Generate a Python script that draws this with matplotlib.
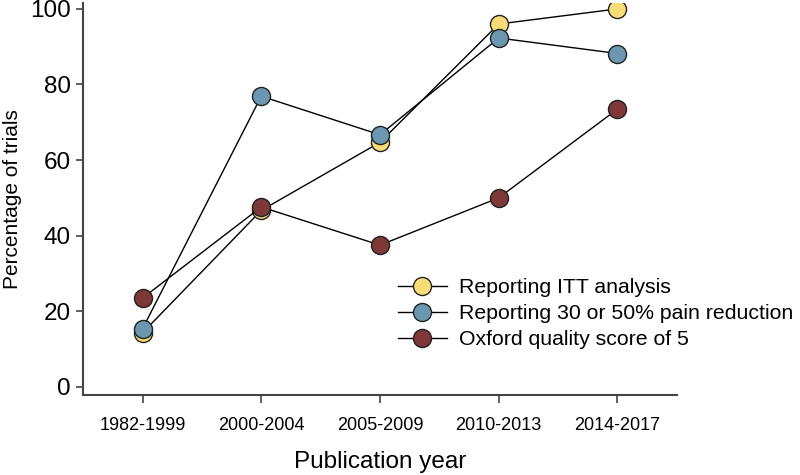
import matplotlib
matplotlib.use("Agg")
import matplotlib.pyplot as plt

plt.rcParams['font.family'] = ['Liberation Sans', 'DejaVu Sans']

categories = ["1982-1999", "2000-2004", "2005-2009", "2010-2013", "2014-2017"]
itt = [14.3, 46.7, 64.7, 96.0, 100.0]
pain = [15.4, 76.9, 66.7, 92.3, 88.2]
oxford = [23.5, 47.6, 37.5, 50.0, 73.5]
labels = ["Reporting ITT analysis", "Reporting 30 or 50% pain reduction", "Oxford quality score of 5"]
colors = ["#F8DC78", "#6C97B1", "#7E3838"]

fig = plt.figure(figsize=(8, 4.75), dpi=100)
ax = fig.add_axes([0.104, 0.168, 0.742, 0.826])

x = list(range(len(categories)))
for vals, lab, col in [(itt, labels[0], colors[0]), (pain, labels[1], colors[1]), (oxford, labels[2], colors[2])]:
    ax.plot(x, vals, color='black', lw=1.0, marker='o', ms=13, mfc=col, mec='#222222', mew=1.0, label=lab)

ax.set_xlim(-0.5, 4.5)
ax.set_ylim(-2.2, 101.6)
ax.set_yticks([0, 20, 40, 60, 80, 100])
ax.set_xticks(x)
ax.set_xticklabels(categories)
ax.tick_params(axis='y', labelsize=17.5, length=5, width=1.2, color='#444444', pad=4)
ax.tick_params(axis='x', labelsize=13, length=6, width=1.2, color='#444444', pad=10)
for s in ['top', 'right']:
    ax.spines[s].set_visible(False)
for s in ['left', 'bottom']:
    ax.spines[s].set_color('#444444')
    ax.spines[s].set_linewidth(1.5)

ax.set_ylabel("Percentage of trials", fontsize=15, labelpad=6)
ax.set_xlabel("Publication year", fontsize=17.5, labelpad=12)

leg = ax.legend(loc='upper left', bbox_to_anchor=(0.4975, 0.414), bbox_transform=fig.transFigure,
                frameon=False, fontsize=15.3, handlelength=2.3, handletextpad=0.56,
                labelspacing=0.33, borderaxespad=0, borderpad=0)

fig.savefig("out.png", dpi=100)
